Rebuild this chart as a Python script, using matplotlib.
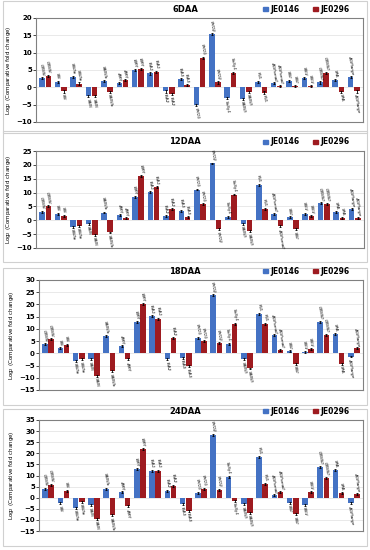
import matplotlib.pyplot as plt
from matplotlib.patches import Rectangle

# gene names (one group of two bars per gene)
genes = ['GBSSI', 'SSI', 'SSIIIa', 'SBEI', 'SBEIIb', 'AMY', 'BMY', 'ISA1', 'ISA2', 'ISA3',
         'PHO1', 'PHO2', 'SuSy1', 'SBEIII', 'PUL', 'AGPsmall', 'SSII', 'SSIV', 'GBSSII',
         'SPA', 'AGPlarge']

# Log2 comparative fold change per stage
je0146_6 = [2.6, 1.6, 3.1, -2.5, 1.8, 1.3, 5.1, 4.0, -1.2, 2.3, -5.2, 15.3, -3.2, -3.3,
            1.5, 1.2, 1.8, 2.7, 1.4, 2.1, 3.1]
je0296_6 = [3.3, -1.2, 1.1, -2.5, -1.3, 2.0, 5.3, 4.5, -2.0, 0.6, 8.5, 1.4, 4.2, -1.3,
            -1.5, 0.4, 0.4, 0.4, 4.1, -1.3, -1.2]

je0146_12 = [3.1, 2.4, -2.3, -1.2, 2.8, 1.9, 8.5, 10.1, 1.4, 3.5, 11.1, 20.5, 1.3, -1.2,
             12.8, 2.4, 1.1, 2.4, 6.1, 3.0, 4.0]
je0296_12 = [5.1, 1.7, -2.0, -5.3, -4.4, 0.8, 16.1, 12.0, 4.1, 1.2, 5.8, -3.3, 9.3, -4.0,
             4.2, -2.2, -3.2, 1.6, 6.0, 0.9, 0.9]

je0146_18 = [3.7, 2.0, -3.0, -2.4, 7.0, 3.0, 12.7, 15.1, -2.3, -1.8, 6.3, 23.7, 4.0, -2.5,
             16.1, 7.4, 0.8, 0.6, 12.8, 8.0, -1.3]
je0296_18 = [5.7, 3.5, -2.5, -9.2, -7.3, -2.3, 20.2, 14.2, 6.1, -5.3, 4.9, 4.1, 12.0, -6.2,
             12.0, 1.4, -4.3, 1.8, 7.4, -4.2, 2.0]

je0146_24 = [3.9, -2.5, -4.5, -3.3, 4.1, 2.6, 12.9, 12.2, 3.2, -2.8, 2.3, 28.4, 9.2, -2.9,
             18.3, 1.2, -2.3, -3.2, 14.0, 12.3, -2.6]
je0296_24 = [5.9, 3.2, -1.8, -9.5, -7.8, -3.8, 22.1, 12.2, 5.3, -5.9, 4.1, 3.6, -1.3, -6.8,
             6.2, 2.7, -7.3, 2.4, 9.0, 2.1, 1.5]

titles = ['6DAA', '12DAA', '18DAA', '24DAA']
ylims = [(-10, 20), (-10, 25), (-15, 30), (-15, 35)]
errs = [0.3, 0.35, 0.4, 0.45]
series = [(je0146_6, je0296_6), (je0146_12, je0296_12),
          (je0146_18, je0296_18), (je0146_24, je0296_24)]

blue = '#4472C4'
red = '#9E1B20'

W, H = 370, 550
fig = plt.figure(figsize=(3.7, 5.5), dpi=100)

# panel frames (px: top, bottom) and axes (px: left, right, top, bottom)
frames = [(1, 133), (131, 262), (268, 405), (409, 546)]
axes_px = [(36, 363, 18, 122), (36, 364, 151, 248), (39, 363, 280, 390), (39, 363, 420, 531)]

for k in range(4):
    ft, fb = frames[k]
    fig.patches.append(Rectangle((3 / W, 1 - fb / H), 364 / W, (fb - ft) / H,
                                 transform=fig.transFigure, fill=False,
                                 edgecolor='#d0d0d0', linewidth=0.8))
    l, r, t, b = axes_px[k]
    ax = fig.add_axes([l / W, 1 - b / H, (r - l) / W, (b - t) / H])
    v1, v2 = series[k]
    x = list(range(len(genes)))
    bw = 0.36
    e = errs[k]
    ax.bar([i - 0.2 for i in x], v1, bw, color=blue, yerr=e,
           error_kw=dict(ecolor='black', elinewidth=0.6, capsize=1, capthick=0.6), zorder=2)
    ax.bar([i + 0.2 for i in x], v2, bw, color=red, yerr=e,
           error_kw=dict(ecolor='black', elinewidth=0.6, capsize=1, capthick=0.6), zorder=2)
    lo, hi = ylims[k]
    span = hi - lo
    for i in x:
        for off, v in ((-0.2, v1[i]), (0.2, v2[i])):
            if v >= 0:
                ax.text(i + off, v + e + span * 0.01, genes[i], rotation=-80, fontsize=3,
                        style='italic', ha='center', va='bottom')
            else:
                ax.text(i + off, v - e - span * 0.01, genes[i], rotation=-80, fontsize=3,
                        style='italic', ha='center', va='top')
    ax.set_xlim(-0.6, len(genes) - 0.4)
    ax.set_ylim(lo, hi)
    ax.set_yticks(range(lo, hi + 1, 5))
    ax.tick_params(axis='y', labelsize=5, length=2, width=0.5, pad=1)
    for lab in ax.get_yticklabels():
        lab.set_fontweight('bold')
    ax.set_xticks([])
    ax.grid(axis='y', color='#e0e0e0', linewidth=0.5, zorder=0)
    ax.set_axisbelow(True)
    for s in ax.spines.values():
        s.set_color('#808080')
        s.set_linewidth(0.8)
    ax.set_ylabel('Log$_2$ (Comparative fold change)', fontsize=4, labelpad=2)

    # title and legend above the plot area
    ty = 1 - (t - 9) / H
    fig.text(185 / W, ty, titles[k], fontsize=6, fontweight='bold', ha='center', va='center')
    for lx, col, name in ((263, blue, 'JE0146'), (313, red, 'JE0296')):
        fig.patches.append(Rectangle((lx / W, ty - 2 / H), 5 / W, 4 / H,
                                     transform=fig.transFigure, color=col))
        fig.text((lx + 7) / W, ty, name, fontsize=5.5, fontweight='bold', ha='left', va='center')

fig.savefig('out.png', dpi=100)
